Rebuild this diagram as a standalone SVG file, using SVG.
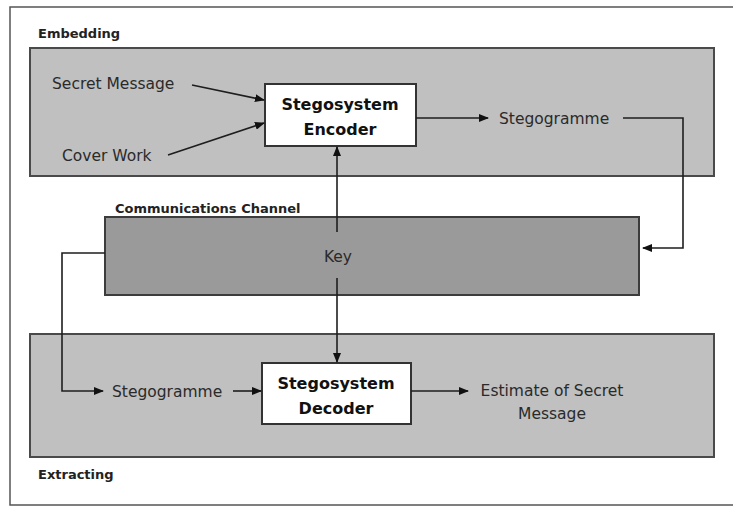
<svg xmlns="http://www.w3.org/2000/svg" width="733" height="506" viewBox="0 0 733 506">
<style>
.panel{fill:#c0c0c0;stroke:#4a4a4a;stroke-width:2}
.chan{fill:#9a9a9a;stroke:#3c3c3c;stroke-width:2}
.node{fill:#ffffff;stroke:#333;stroke-width:2}
.lbl{font-family:"DejaVu Sans",sans-serif;font-size:13px;font-weight:bold;fill:#222}
.txt{font-family:"DejaVu Sans",sans-serif;font-size:15.5px;fill:#2a2a2a}
.bt{font-family:"DejaVu Sans",sans-serif;font-size:16px;font-weight:bold;fill:#111;text-anchor:middle}
.conn{fill:none;stroke:#1e1e1e;stroke-width:1.6}
</style>
<defs>
<marker id="ah" markerWidth="10" markerHeight="8" refX="9" refY="4" orient="auto" markerUnits="userSpaceOnUse">
<path d="M0,0 L10,4 L0,8 Z" fill="#111"/>
</marker>
</defs>
<rect x="0" y="0" width="733" height="506" fill="#fff"/>
<rect x="10" y="7" width="740" height="498" fill="#fff" stroke="#555" stroke-width="1.5"/>

<g id="embedding">
<rect class="panel" x="30" y="48" width="684" height="128"/>
<text class="lbl" x="38" y="38">Embedding</text>
</g>
<g id="channel">
<rect class="chan" x="105" y="217" width="534" height="78"/>
<text class="lbl" x="115" y="213">Communications Channel</text>
<text class="txt" x="338" y="262" text-anchor="middle">Key</text>
</g>
<g id="extracting">
<rect class="panel" x="30" y="334" width="684" height="123"/>
<text class="lbl" x="38" y="479">Extracting</text>
</g>

<g id="secret-message"><text class="txt" x="52" y="89">Secret Message</text></g>
<g id="cover-work"><text class="txt" x="62" y="161">Cover Work</text></g>
<g id="encoder">
<rect class="node" x="265" y="84" width="151" height="62"/>
<text class="bt" x="340" y="110">Stegosystem</text>
<text class="bt" x="340" y="135">Encoder</text>
</g>
<g id="stegogramme-out"><text class="txt" x="499" y="124">Stegogramme</text></g>
<g id="stegogramme-in"><text class="txt" x="112" y="397">Stegogramme</text></g>
<g id="decoder">
<rect class="node" x="262" y="363" width="149" height="61"/>
<text class="bt" x="336" y="389">Stegosystem</text>
<text class="bt" x="336" y="414">Decoder</text>
</g>
<g id="estimate">
<text class="txt" x="552" y="396" text-anchor="middle">Estimate of Secret</text>
<text class="txt" x="552" y="419" text-anchor="middle">Message</text>
</g>

<g id="connectors">
<line class="conn" x1="192" y1="85" x2="264" y2="100" marker-end="url(#ah)"/>
<line class="conn" x1="168" y1="155" x2="264" y2="123" marker-end="url(#ah)"/>
<line class="conn" x1="416" y1="118" x2="488" y2="118" marker-end="url(#ah)"/>
<polyline class="conn" points="623,118 683,118 683,248 643,248" marker-end="url(#ah)"/>
<line class="conn" x1="337" y1="232" x2="337" y2="147" marker-end="url(#ah)"/>
<line class="conn" x1="337" y1="278" x2="337" y2="362" marker-end="url(#ah)"/>
<polyline class="conn" points="105,253 62,253 62,391 103,391" marker-end="url(#ah)"/>
<line class="conn" x1="233" y1="391" x2="261" y2="391" marker-end="url(#ah)"/>
<line class="conn" x1="411" y1="391" x2="468" y2="391" marker-end="url(#ah)"/>
</g>
</svg>
